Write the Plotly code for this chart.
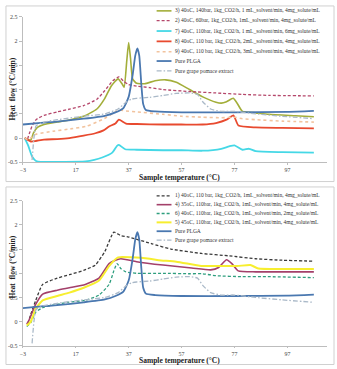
import plotly.graph_objects as go

# ---------------- data (top chart) ----------------
s3_x = [-2.3, -1, 0, 1, 2.5, 5, 10, 15, 20, 25, 28, 30.5, 33, 34.5, 35.3, 36.3, 37, 37.7, 38.5, 40, 43, 47, 51, 55, 60, 65, 70, 72, 74, 76.5, 78, 80, 85, 90, 100, 107]
s3_y = [0.0, -0.03, -0.04, 0.1, 0.22, 0.28, 0.33, 0.38, 0.45, 0.6, 0.82, 1.08, 1.22, 1.12, 1.05, 1.6, 1.97, 1.65, 1.22, 1.13, 1.12, 1.18, 1.2, 1.15, 1.0, 0.85, 0.74, 0.72, 0.75, 0.82, 0.72, 0.55, 0.52, 0.49, 0.46, 0.44]

s2_x = [-2.3, -1.5, -0.5, 0.5, 2, 5, 10, 15, 20, 25, 28, 31, 33.3, 35, 37, 40, 45, 50, 60, 70, 80, 90, 107]
s2_y = [0.0, -0.05, 0.1, 0.25, 0.38, 0.47, 0.54, 0.6, 0.67, 0.8, 0.98, 1.18, 1.26, 1.18, 1.1, 1.07, 1.04, 1.0, 0.96, 0.93, 0.9, 0.88, 0.87]

s7_x = [-2.3, -1, 0.5, 2, 3.8, 10, 20.7, 24, 27, 30.8, 32.6, 33.3, 35.7, 40, 50, 57, 65, 72, 75, 77, 80, 82.5, 85, 95, 107]
s7_y = [0.0, -0.15, -0.38, -0.47, -0.49, -0.49, -0.48, -0.45, -0.4, -0.3, -0.16, -0.14, -0.23, -0.24, -0.25, -0.25, -0.26, -0.22, -0.17, -0.15, -0.24, -0.22, -0.27, -0.29, -0.3]

s8_x = [-2.3, 0, 1.9, 5, 10, 14.6, 20, 24.4, 27.5, 29.6, 32, 33.3, 36, 40, 50, 57, 65, 70, 74, 76.6, 78.5, 85, 95, 107]
s8_y = [0.0, -0.07, -0.06, -0.03, -0.02, 0.0, 0.05, 0.1, 0.16, 0.24, 0.3, 0.38, 0.3, 0.29, 0.28, 0.28, 0.28, 0.31, 0.38, 0.47, 0.26, 0.22, 0.21, 0.2]

s9_x = [-2.3, -1, 2, 8.3, 15, 20.8, 27, 30.8, 33.3, 36, 40, 50, 57, 65, 72, 77, 80, 85, 95, 107]
s9_y = [0.0, -0.03, 0.08, 0.14, 0.19, 0.24, 0.38, 0.5, 0.58, 0.56, 0.54, 0.49, 0.45, 0.43, 0.42, 0.43, 0.4, 0.38, 0.35, 0.33]

plga_x = [-3, 5, 10, 20, 28, 32, 35, 37, 38.5, 39.5, 40.3, 41, 41.8, 42.5, 43.5, 47, 57, 77, 97, 107]
plga_y = [0.28, 0.32, 0.34, 0.4, 0.46, 0.53, 0.62, 0.85, 1.3, 1.7, 1.85, 1.7, 1.1, 0.7, 0.58, 0.55, 0.53, 0.53, 0.54, 0.56]

gpe_x = [0.5, 1.2, 2, 5, 10, 20, 28, 33, 36, 38, 40, 45, 50, 55, 60, 63, 65, 68, 72, 77, 85, 95, 107]
gpe_y = [-0.45, 0.0, 0.25, 0.33, 0.38, 0.45, 0.5, 0.6, 0.74, 0.8, 0.82, 0.84, 0.88, 0.92, 0.93, 0.9, 0.75, 0.6, 0.55, 0.55, 0.5, 0.45, 0.4]

# ---------------- data (bottom chart) ----------------
s1_x = [-1.1, 0, 1.9, 4.5, 10, 14.6, 20, 24.4, 28, 31.4, 34, 37, 45.8, 53, 64.5, 75, 85, 95, 107]
s1_y = [-0.04, 0.15, 0.44, 0.77, 0.9, 0.97, 1.06, 1.17, 1.45, 1.85, 1.78, 1.75, 1.61, 1.5, 1.41, 1.36, 1.3, 1.27, 1.25]

s4_x = [-1.5, -0.5, 1.9, 4.5, 10, 14.6, 20.6, 25.8, 29.6, 32, 34, 40, 50, 60.8, 68, 71, 74, 76, 78.4, 85, 95, 107]
s4_y = [-0.05, 0.05, 0.36, 0.57, 0.65, 0.7, 0.77, 0.9, 1.2, 1.27, 1.3, 1.24, 1.17, 1.11, 1.07, 1.12, 1.28, 1.2, 1.05, 1.03, 1.03, 1.03]

s6_x = [-1.5, 0, 1.9, 5, 8.3, 14, 20.6, 25.8, 29.6, 31.4, 32.6, 34, 36, 40, 50, 60, 65, 70, 80, 89.6, 107]
s6_y = [-0.1, -0.02, 0.2, 0.3, 0.34, 0.4, 0.44, 0.55, 0.77, 1.05, 1.2, 1.1, 1.03, 1.0, 1.0, 0.99, 0.99, 0.95, 0.93, 0.93, 0.91]

s5_x = [-1.5, 0, 1.9, 4.5, 10, 14.6, 20, 25.8, 29.6, 33, 38, 45, 48.3, 55, 64.5, 69.4, 78, 83, 86, 95, 107]
s5_y = [-0.08, 0.0, 0.27, 0.44, 0.53, 0.6, 0.7, 0.85, 1.15, 1.33, 1.33, 1.3, 1.27, 1.24, 1.15, 1.15, 1.15, 1.17, 1.1, 1.09, 1.09]

DASH = "3px,2px"
DASHDOT = "5px,2px,1.5px,2px"

top_series = [
    ("3) 40oC, 140bar, 1kg_CO2/h, 1 mL_solvent/min, 4mg_solute/mL", s3_x, s3_y, "#A3AE3A", "solid", 1.6),
    ("2) 40oC, 60bar, 1kg_CO2/h, 1mL_solvent/min, 4mg_solute/mL", s2_x, s2_y, "#B5476B", DASH, 1.3),
    ("7) 40oC, 110bar, 1kg_CO2/h, 1 mL_solvent/min, 6mg_solute/mL", s7_x, s7_y, "#45D8E6", "solid", 1.8),
    ("8) 40oC, 110 bar, 1kg_CO2/h, 2mL_solvent/min, 4mg_solute/mL", s8_x, s8_y, "#E84A2F", "solid", 1.8),
    ("9) 40oC, 110 bar, 1kg_CO2/h, 3mL_solvent/min, 4mg_solute/mL", s9_x, s9_y, "#F2C39E", "dot", 1.6),
    ("Pure PLGA", plga_x, plga_y, "#4A78B0", "solid", 1.8),
    ("Pure grape pomace extract", gpe_x, gpe_y, "#AAB9C8", DASHDOT, 1.3),
]
bottom_series = [
    ("1) 40oC, 110 bar, 1kg_CO2/h, 1mL_solvent/min, 4mg_solute/mL", s1_x, s1_y, "#3A3A3A", DASH, 1.3),
    ("4) 35oC, 110bar, 1kg_CO2/h, 1mL_solvent/min, 4mg_solute/mL", s4_x, s4_y, "#A3406A", "solid", 1.6),
    ("6) 40oC, 110bar, 1kg_CO2/h, 1mL_solvent/min, 2mg_solute/mL", s6_x, s6_y, "#2E9E7E", DASH, 1.3),
    ("5) 45oC, 110bar, 1kg_CO2/h, 1mL_solvent/min, 4mg_solute/mL", s5_x, s5_y, "#F7EE2F", "solid", 2.0),
    ("Pure PLGA", plga_x, plga_y, "#4A78B0", "solid", 1.8),
    ("Pure grape pomace extract", gpe_x, gpe_y, "#AAB9C8", DASHDOT, 1.3),
]

x_ticks = [-3, 17, 37, 57, 77, 97]
y_ticks = [-0.5, 0, 0.5, 1, 1.5, 2, 2.5]
y_ticktext = ["-0.5", "0", "0.5", "1", "1.5", "2", "2.5"]

W, H = 337, 369
def px(x):
    return x / W
def py(y):
    return (H - y) / H

fig = go.Figure()
for name, xs, ys, col, dash, w in top_series:
    fig.add_trace(go.Scatter(x=xs, y=ys, mode="lines", name=name, showlegend=False,
                             line=dict(color=col, dash=dash, width=w, shape="spline", smoothing=0.5),
                             xaxis="x", yaxis="y"))
for name, xs, ys, col, dash, w in bottom_series:
    fig.add_trace(go.Scatter(x=xs, y=ys, mode="lines", name=name, showlegend=False,
                             line=dict(color=col, dash=dash, width=w, shape="spline", smoothing=0.5),
                             xaxis="x2", yaxis="y2"))

tickfont = dict(family="Liberation Serif", size=6, color="#444")
axcommon = dict(range=[-3, 112], tickvals=x_ticks, showgrid=False, zeroline=False,
                showline=True, linecolor="#BDBDBD", linewidth=1, ticks="outside",
                ticklen=1.5, tickcolor="#BDBDBD", tickfont=tickfont)
aycommon = dict(range=[-0.5, 2.5], tickvals=y_ticks, ticktext=y_ticktext, showgrid=False,
                zeroline=False, showline=True, linecolor="#BDBDBD", linewidth=1,
                ticks="outside", ticklen=3, tickcolor="#BDBDBD", tickfont=tickfont)

fig.update_layout(
    width=W, height=H, margin=dict(l=0, r=0, t=0, b=0),
    paper_bgcolor="white", plot_bgcolor="white",
    xaxis=dict(domain=[px(20), px(327)], anchor="y", **axcommon),
    yaxis=dict(domain=[py(162), py(14)], anchor="x", **aycommon),
    xaxis2=dict(domain=[px(20), px(327)], anchor="y2", **axcommon),
    yaxis2=dict(domain=[py(348.5), py(201)], anchor="x2", **aycommon),
)

shapes = [
    dict(type="rect", xref="paper", yref="paper", x0=px(3), x1=px(334), y0=py(181.5), y1=py(3),
         line=dict(color="#D0D0D0", width=1), fillcolor="rgba(0,0,0,0)", layer="below"),
    dict(type="rect", xref="paper", yref="paper", x0=px(3), x1=px(334), y0=py(367.5), y1=py(187),
         line=dict(color="#D0D0D0", width=1), fillcolor="rgba(0,0,0,0)", layer="below"),
]
annotations = []
title_font = dict(family="Liberation Serif", size=7.5, color="#222")

for yc, xt_y in [(87, 177.5), (268, 363.5)]:
    annotations.append(dict(text="<b>Heat  flow (°C/min)</b>", xref="paper", yref="paper",
                            x=px(10), y=py(yc), showarrow=False, textangle=-90,
                            font=title_font, xanchor="center", yanchor="middle"))
    annotations.append(dict(text="<b>Sample temperature (°C)</b>", xref="paper", yref="paper",
                            x=px(178), y=py(xt_y), showarrow=False, font=title_font,
                            xanchor="center", yanchor="middle"))

leg_font = dict(family="Liberation Serif", size=5.5, color="#333")
top_leg_y = [8, 18, 28.5, 39, 49.5, 59, 69]
bot_leg_y = [196, 205, 214, 223, 232, 241]
for series, ys_leg in [(top_series, top_leg_y), (bottom_series, bot_leg_y)]:
    for (name, xs, ys, col, dash, w), ly in zip(series, ys_leg):
        shapes.append(dict(type="line", xref="paper", yref="paper", x0=px(155), x1=px(170),
                           y0=py(ly), y1=py(ly), line=dict(color=col, dash=dash, width=w)))
        annotations.append(dict(text=name, xref="paper", yref="paper", x=px(171.5), y=py(ly),
                                showarrow=False, xanchor="left", yanchor="middle", font=leg_font))

fig.update_layout(shapes=shapes, annotations=annotations)
fig.write_html("out.html")
